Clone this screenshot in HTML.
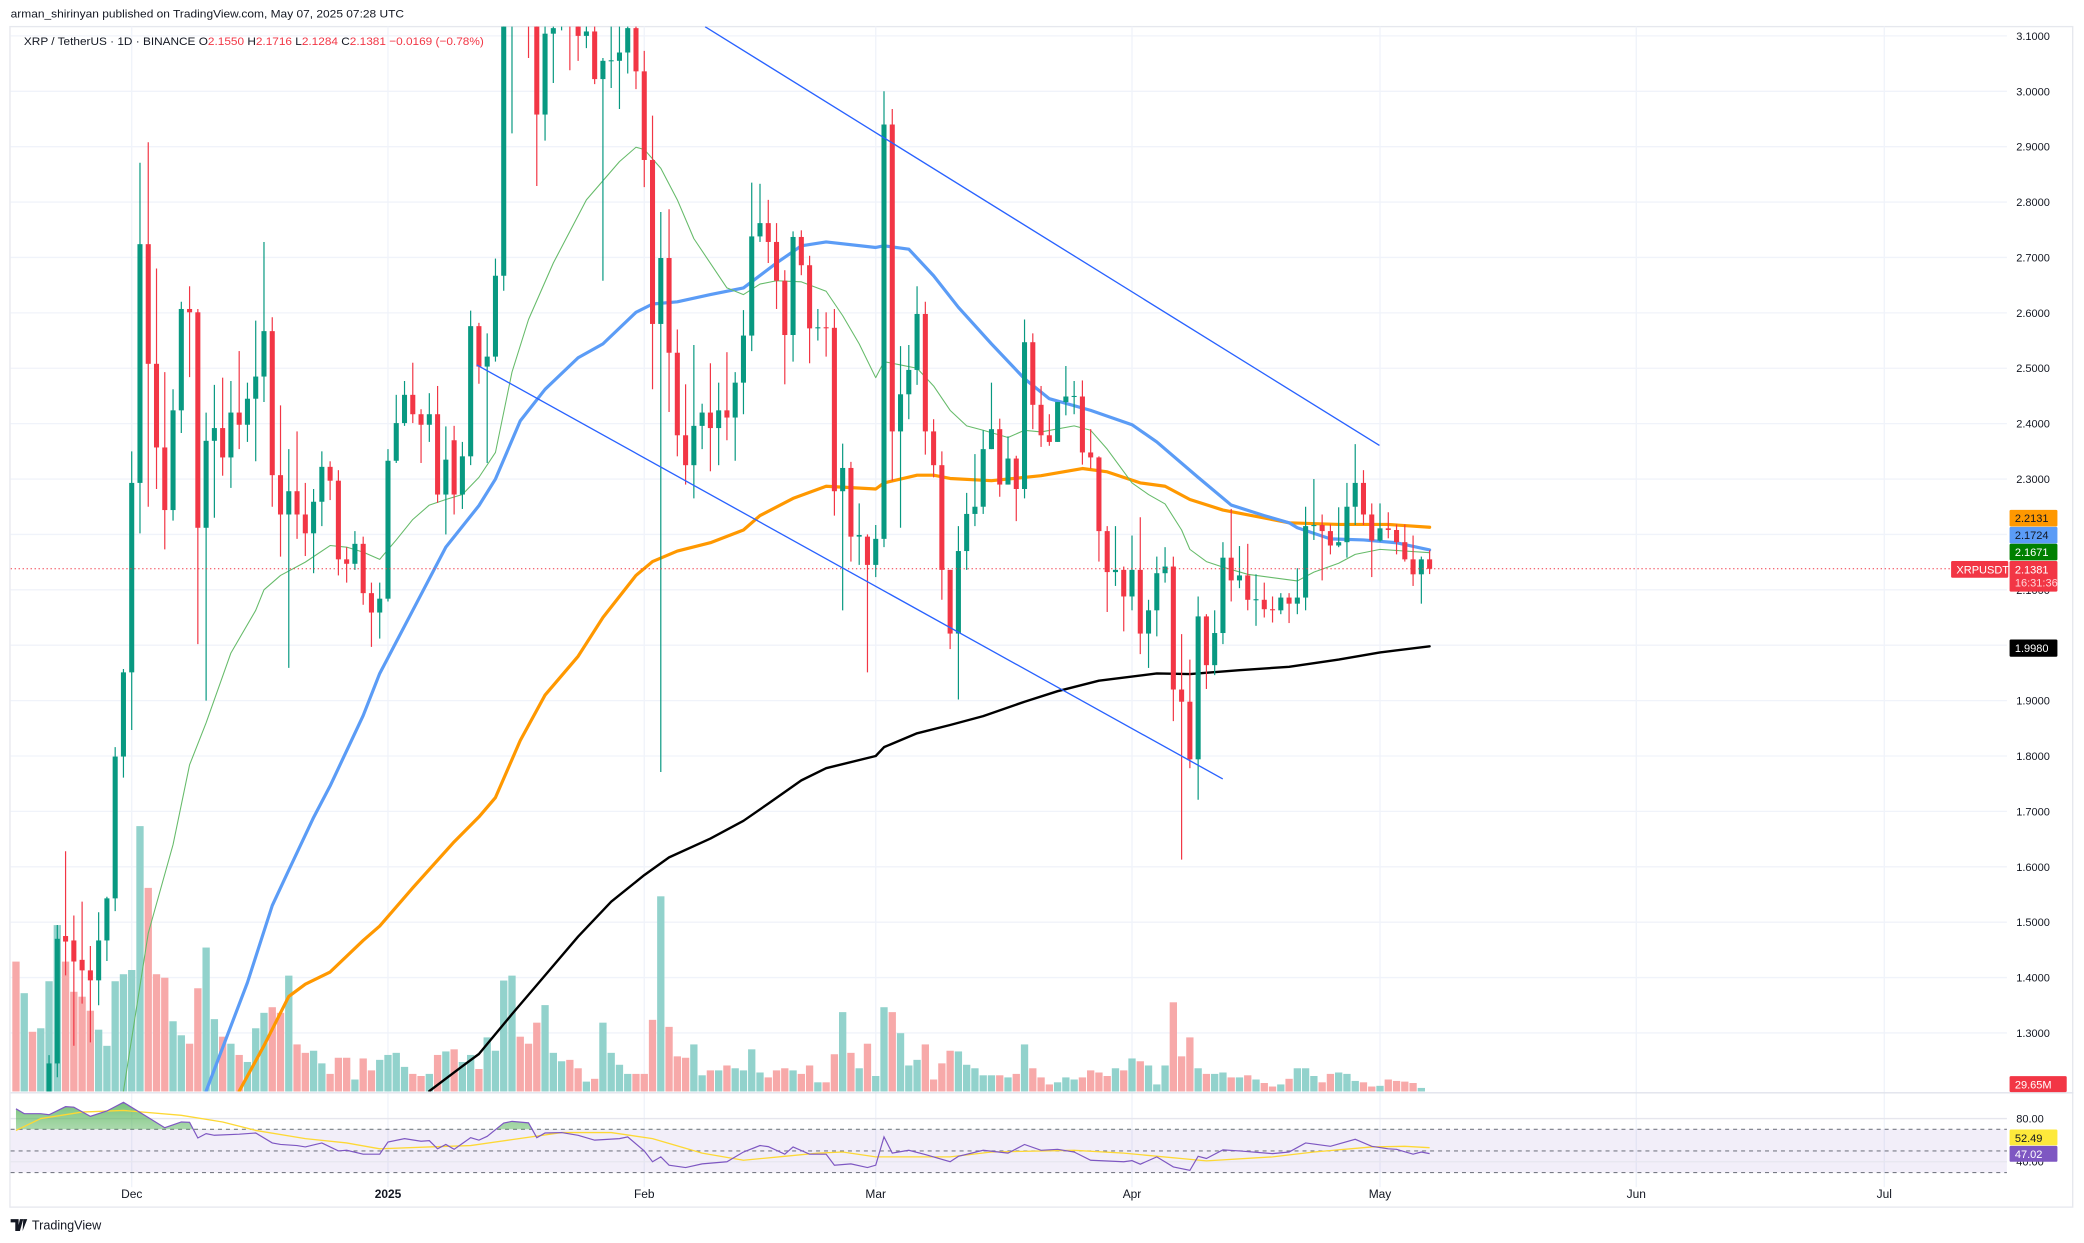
<!DOCTYPE html>
<html><head><meta charset="utf-8"><style>
html,body{margin:0;padding:0;background:#fff;}
svg{display:block;font-family:"Liberation Sans",sans-serif;}
</style></head><body>
<svg id="chart" width="2084" height="1243" viewBox="0 0 1568 935" preserveAspectRatio="none" xmlns="http://www.w3.org/2000/svg">
<defs>
<clipPath id="plotClip"><rect x="8" y="20" width="1502" height="801"/></clipPath>
<clipPath id="obClip"><rect x="8" y="822" width="1502" height="27.5"/></clipPath>
<linearGradient id="obGrad" x1="0" y1="0" x2="0" y2="1"><stop offset="0" stop-color="#4caf50" stop-opacity="0.75"/><stop offset="1" stop-color="#4caf50" stop-opacity="0.05"/></linearGradient>
</defs>
<rect x="0" y="0" width="1568" height="935" fill="#fff"/>
<rect x="7.5" y="20" width="1552" height="888" fill="none" stroke="#e6e8ee" stroke-width="1"/>
<g id="grid"></g>
<g id="vol" clip-path="url(#plotClip)"></g>
<g id="mas" clip-path="url(#plotClip)"></g>
<g id="candles" clip-path="url(#plotClip)"></g>
<g id="overlay" clip-path="url(#plotClip)"></g>
<g id="rsi"></g>
<g id="axes"></g>
<text x="8" y="13" font-size="8.6" fill="#131722" textLength="296" lengthAdjust="spacingAndGlyphs">arman_shirinyan published on TradingView.com, May 07, 2025 07:28 UTC</text>
<text x="18" y="34" font-size="8.6" fill="#131722" textLength="346" lengthAdjust="spacingAndGlyphs">XRP / TetherUS · 1D · BINANCE  O<tspan fill="#f23645">2.1550</tspan>  H<tspan fill="#f23645">2.1716</tspan>  L<tspan fill="#f23645">2.1284</tspan>  C<tspan fill="#f23645">2.1381</tspan>  <tspan fill="#f23645">−0.0169 (−0.78%)</tspan></text>
<g>
<path d="M8 917h6v9h-2.5v-6.5H8z M15 917h2.5l-2.5 9h-2z M17.5 917h3l-3.5 9" fill="#131722"/>
<text x="24" y="925" font-size="9.5" fill="#131722">TradingView</text>
</g>
</svg>
<script>
const dayStart = -14;
const opens = [1.13,1.10,1.12,1.10,1.12,1.245,1.475,1.467,1.432,1.413,1.395,1.467,1.543,1.799,
1.951,2.293,2.724,2.508,2.357,2.244,2.424,2.607,2.601,2.212,2.369,2.392,2.339,2.42,2.398,2.445,2.485,2.567,2.307,2.236,2.278,2.236,2.202,2.259,2.322,2.297,2.155,2.147,2.183,2.094,2.059,2.084,2.333,2.401,2.452,2.417,2.398,2.417,2.272,2.37,2.272,2.341,2.576,2.503,2.521,
2.667,3.20,3.34,3.25,3.20,2.958,3.104,3.12,3.18,3.12,3.10,3.108,3.022,3.055,3.055,3.07,3.114,3.036,2.876,2.58,2.699,2.528,2.379,2.325,2.396,2.42,2.392,2.424,2.411,2.474,2.559,2.738,2.762,2.728,2.658,2.56,2.737,2.686,2.572,2.574,2.573,2.278,2.32,2.196,2.196,2.145,2.192,2.94,2.386,2.453,2.497,2.598,2.386,2.325,2.136,2.021,2.17,2.237,
2.25,2.354,2.39,2.29,2.337,2.282,2.547,2.434,2.379,2.367,2.439,2.449,2.449,2.348,2.339,2.206,2.132,2.136,2.088,2.136,2.021,2.063,2.13,2.142,1.92,1.898,1.794,2.052,1.964,2.022,2.158,2.117,2.126,2.082,2.082,2.065,2.063,2.086,2.075,2.086,2.215,2.217,2.206,2.18,2.186,2.25,2.293,2.236,2.189,2.211,2.208,2.186,2.155,2.128,2.155];
const closes = [1.10,1.12,1.10,1.12,1.245,1.47,1.465,1.429,1.413,1.395,1.467,1.543,1.799,1.951,
2.293,2.724,2.508,2.357,2.244,2.424,2.607,2.601,2.212,2.369,2.392,2.339,2.42,2.398,2.445,2.485,2.567,2.307,2.236,2.278,2.236,2.202,2.259,2.322,2.297,2.155,2.147,2.183,2.094,2.059,2.084,2.333,2.401,2.452,2.417,2.398,2.417,2.272,2.335,2.272,2.341,2.576,2.503,2.521,2.667,
3.20,3.34,3.25,3.20,2.958,3.104,3.114,3.18,3.12,3.10,3.108,3.022,3.055,3.056,3.07,3.114,3.036,2.876,2.58,2.699,2.528,2.379,2.325,2.396,2.42,2.392,2.424,2.411,2.474,2.559,2.738,2.762,2.728,2.658,2.56,2.737,2.686,2.572,2.574,2.573,2.278,2.32,2.196,2.199,2.145,2.192,2.94,2.386,2.453,2.497,2.598,2.386,2.325,2.136,2.021,2.17,2.237,2.25,
2.354,2.39,2.29,2.337,2.282,2.547,2.434,2.379,2.367,2.439,2.449,2.45,2.348,2.339,2.206,2.132,2.136,2.088,2.136,2.021,2.063,2.13,2.142,1.92,1.898,1.794,2.052,1.964,2.022,2.158,2.117,2.126,2.082,2.083,2.065,2.063,2.086,2.075,2.086,2.215,2.217,2.206,2.18,2.186,2.25,2.293,2.236,2.189,2.211,2.208,2.186,2.155,2.128,2.155,2.138];
const highs = [1.16,1.15,1.14,1.15,1.26,1.495,1.628,1.512,1.537,1.457,1.518,1.546,1.816,1.957,
2.35,2.871,2.908,2.68,2.493,2.462,2.62,2.648,2.607,2.42,2.47,2.483,2.477,2.531,2.474,2.586,2.728,2.592,2.433,2.354,2.386,2.293,2.282,2.35,2.332,2.316,2.177,2.206,2.196,2.113,2.113,2.354,2.452,2.477,2.51,2.426,2.455,2.468,2.395,2.396,2.367,2.604,2.582,2.563,2.698,
3.25,3.40,3.40,3.35,3.30,3.20,3.20,3.25,3.25,3.20,3.15,3.15,3.06,3.15,3.15,3.15,3.15,3.073,2.956,2.782,2.787,2.57,2.471,2.542,2.436,2.509,2.474,2.529,2.493,2.605,2.835,2.833,2.804,2.762,2.677,2.747,2.749,2.703,2.607,2.601,2.607,2.364,2.331,2.256,2.2,2.217,3.0,2.968,2.54,2.542,2.648,2.62,2.408,2.35,2.136,2.215,2.275,2.345,
2.388,2.474,2.409,2.377,2.342,2.588,2.563,2.468,2.417,2.439,2.504,2.477,2.478,2.39,2.341,2.215,2.215,2.142,2.198,2.231,2.082,2.16,2.177,2.16,2.02,1.974,2.088,2.056,2.063,2.186,2.246,2.179,2.183,2.128,2.113,2.088,2.094,2.094,2.139,2.25,2.3,2.236,2.218,2.249,2.293,2.363,2.316,2.256,2.256,2.24,2.218,2.218,2.198,2.16,2.1716];
const lows = [1.08,1.07,1.07,1.09,1.10,1.22,1.404,1.277,1.353,1.283,1.35,1.43,1.52,1.761,
1.847,2.202,2.25,2.282,2.173,2.225,2.383,2.484,2.002,1.9,2.23,2.306,2.284,2.354,2.367,2.332,2.439,2.25,2.16,1.959,2.192,2.161,2.13,2.215,2.262,2.126,2.113,2.136,2.073,1.997,2.012,2.079,2.329,2.396,2.401,2.329,2.367,2.257,2.2,2.236,2.246,2.325,2.472,2.329,2.512,
2.64,2.924,3.12,3.06,2.829,2.911,3.015,3.11,3.038,3.055,3.078,3.013,2.658,3.006,2.968,3.032,3.004,2.827,2.462,1.771,2.421,2.341,2.29,2.265,2.354,2.314,2.325,2.37,2.333,2.417,2.531,2.728,2.69,2.607,2.471,2.512,2.668,2.509,2.55,2.521,2.234,2.063,2.151,2.145,1.951,2.123,2.177,2.297,2.212,2.408,2.47,2.344,2.303,2.082,1.993,1.902,2.136,2.215,
2.237,2.354,2.268,2.29,2.224,2.265,2.39,2.358,2.36,2.367,2.415,2.417,2.326,2.319,2.151,2.06,2.107,2.025,2.063,1.984,1.959,2.016,2.113,1.863,1.613,1.778,1.721,1.921,1.946,2.002,2.079,2.103,2.063,2.035,2.05,2.041,2.056,2.04,2.056,2.063,2.19,2.117,2.164,2.177,2.158,2.217,2.217,2.123,2.187,2.193,2.164,2.151,2.107,2.075,2.1284];
const volumesM = [1110,840,510,540,942,1422,1110,852,810,690,528,390,942,1002,
1038,2268,1740,1002,972,600,480,408,882,1230,618,468,408,312,252,540,672,720,672,990,402,330,348,240,150,288,288,102,282,180,270,312,330,210,150,132,150,312,342,360,252,312,192,462,348,
948,990,468,408,588,738,330,258,270,198,84,108,588,330,228,150,150,150,612,1668,552,300,288,402,138,180,180,222,198,180,360,162,120,180,198,180,150,222,78,78,318,678,330,198,408,132,720,678,498,222,270,402,102,240,348,342,228,198,
138,138,138,120,150,402,198,120,60,78,120,102,120,180,162,132,198,180,282,258,222,60,222,762,300,462,198,150,150,162,120,120,138,102,72,42,60,108,198,198,132,78,150,162,150,90,78,42,48,102,90,84,72,30];

const ema20Days = [-1,2,5,7,9,12,15,16,18,21,24,26,28,30,32,34,36,38,40,42,44,46,48,51,55,59,61,62,64,66,68,72,74,76,78,81,84,86,88,90,91,93,95,97,99,101,103,106,108,110,114,116,118,121,123,125,127,128,130,132,135,141,143,146,148,151,157];
const ema20Vals = [1.195,1.48,1.64,1.784,1.86,1.986,2.063,2.1,2.126,2.15,2.18,2.177,2.168,2.155,2.19,2.227,2.253,2.263,2.272,2.303,2.348,2.493,2.588,2.69,2.804,2.873,2.899,2.895,2.861,2.804,2.734,2.645,2.633,2.652,2.658,2.656,2.639,2.595,2.544,2.483,2.512,2.506,2.5,2.468,2.424,2.396,2.388,2.375,2.388,2.385,2.396,2.388,2.354,2.293,2.272,2.255,2.208,2.173,2.151,2.141,2.128,2.116,2.132,2.148,2.164,2.173,2.167];
const sma50Days = [9,14,17,19,22,24,28,30,34,38,42,44,47,50,54,57,61,63,66,70,74,78,81,84,90,91,94,97,100,104,108,111,116,121,124,129,133,137,140,141,145,149,153,157];
const sma50Vals = [1.195,1.391,1.53,1.594,1.689,1.746,1.873,1.949,2.063,2.177,2.252,2.3,2.405,2.462,2.519,2.544,2.601,2.616,2.62,2.633,2.645,2.69,2.721,2.728,2.718,2.721,2.715,2.667,2.61,2.544,2.481,2.445,2.424,2.398,2.367,2.303,2.253,2.234,2.221,2.212,2.192,2.19,2.185,2.172];
const sma100Days = [13,16,19,21,24,28,30,34,39,42,44,47,50,54,57,61,63,66,70,74,76,80,84,90,91,95,97,99,104,110,115,118,122,125,128,132,140,146,152,157];
const sma100Vals = [1.195,1.277,1.366,1.388,1.41,1.467,1.493,1.562,1.645,1.69,1.725,1.828,1.91,1.98,2.05,2.126,2.151,2.17,2.185,2.208,2.234,2.265,2.287,2.282,2.293,2.307,2.307,2.301,2.297,2.306,2.319,2.313,2.293,2.287,2.263,2.244,2.221,2.218,2.218,2.213];
const sma200Days = [36,40,42,46,50,54,58,62,65,70,74,77,81,84,90,91,95,99,103,108,112,117,124,128,134,140,146,151,157];
const sma200Vals = [1.195,1.24,1.262,1.334,1.404,1.474,1.537,1.585,1.617,1.651,1.683,1.714,1.756,1.778,1.8,1.816,1.841,1.856,1.872,1.898,1.917,1.936,1.949,1.948,1.955,1.961,1.974,1.987,1.998];

const rsiDays = [-14,-13,-11,-10,-8,-7,-5,-3,-1,2,4,6,7,8,9,10,13,15,17,18,20,21,23,25,26,28,30,31,33,35,36,37,38,39,41,42,43,45,46,48,49,50,52,54,56,59,60,62,63,64,65,67,69,72,74,76,77,79,80,82,84,85,87,89,90,91,92,94,96,99,100,103,106,108,110,112,114,116,120,121,122,124,126,128,129,130,132,134,138,140,142,145,148,150,152,153,155,156,157];
const rsiVals = [89,84.5,84.5,83.5,91,90.5,82,87,95,81,71.5,76.8,76.5,62,66,64.5,65.5,66.6,57.4,56,55,53.7,57.4,50,50.6,47,47,58.3,61.4,59,59.5,52,56,51.5,62.3,60,63.5,75.8,77.4,76,62.3,66.6,67,64.5,60,61.4,63,50,40,44.5,36.8,34.6,38,40,49,55,54,47,53.7,47,47,36.8,38,34.6,36.8,63,48,50.6,46.6,40,45,50.6,48,56,50.6,51.5,49,41.4,40,41,37.7,44.5,35.2,32,45,43,51,50,47.5,49,57.4,54.3,60.8,54.3,52,51.5,47,49,47.5];
const rsiMaDays = [-14,-11,-6,-1,6,11,15,21,26,30,36,41,46,52,58,63,69,74,79,83,86,90,99,104,114,120,130,138,143,150,154,157];
const rsiMaVals = [69,80,86,87.5,83,76.8,69,61.4,57.4,52,53.7,55,60.5,67,67,61.4,48,41.4,45,48,49,44.5,44.5,49,50.6,48,40.8,44.5,49,53.7,54.3,53];
const priceTicks = [3.1,3.0,2.9,2.8,2.7,2.6,2.5,2.4,2.3,2.2,2.1,2.0,1.9,1.8,1.7,1.6,1.5,1.4,1.3];
const monthLabels = ["Dec","2025","Feb","Mar","Apr","May","Jun","Jul"];
const monthDays = [0,31,62,90,121,151,182,212];

const NS = "http://www.w3.org/2000/svg";
function X(d){return 99.1 + 6.22*d;}
function Y(p){return 27 + (3.1-p)*416.67;}
function VY(v){return 821 - v*0.088;}
function RY(r){return 849.5 - (r-70)*0.8125;}
function mk(tag, attrs, parent){const e=document.createElementNS(NS,tag);for(const k in attrs)e.setAttribute(k,attrs[k]);parent.appendChild(e);return e;}

const grid = document.getElementById('grid');
priceTicks.forEach(p=>{
  const l = mk('line',{x1:8,x2:1510,y1:Y(p),y2:Y(p),stroke:'#f0f3fa','stroke-width':1},grid);
  
  
});
monthDays.forEach(d=>{
  const l = mk('line',{x1:X(d),x2:X(d),y1:20,y2:893,stroke:'#f0f3fa','stroke-width':1},grid);
  
  
});

const volG = document.getElementById('vol');
volumesM.forEach((v,i)=>{
  const d = dayStart+i;
  const up = closes[i] >= opens[i];
  const r = mk('rect',{x:X(d)-2.75,y:VY(v),width:5.5,height:821-VY(v),fill: up?'#92d2cc':'#f7a9a9'},volG);
  
  
});

const maG = document.getElementById('mas');
function line(days, vals, color, w, name){
  const pts = days.map((d,i)=>X(d).toFixed(2)+','+Y(vals[i]).toFixed(2)).join(' ');
  const pl = mk('polyline',{points:pts,fill:'none',stroke:color,'stroke-width':w,'stroke-linejoin':'round','stroke-linecap':'round'},maG);
  
  
}
line(sma200Days,sma200Vals,'#000000',1.8,'ma-200-line');
line(sma100Days,sma100Vals,'#ff9800',2.4,'ma-100-line');
line(sma50Days,sma50Vals,'#5b9cf6',2.4,'ma-50-line');
line(ema20Days,ema20Vals,'#66bb6a',0.8,'ma-20-line');

const cG = document.getElementById('candles');
opens.forEach((o,i)=>{
  const d = dayStart+i, c = closes[i];
  const up = c >= o, col = up ? '#089981' : '#f23645';
  const w = mk('line',{x1:X(d),x2:X(d),y1:Y(highs[i]),y2:Y(lows[i]),stroke:col,'stroke-width':0.9},cG);
  
  
  const top = Y(Math.max(o,c)), h = Math.max(Math.abs(Y(o)-Y(c)),0.8);
  const b = mk('rect',{x:X(d)-1.9,y:top,width:3.8,height:h,fill:col},cG);
  
  
});

const ov = document.getElementById('overlay');
const lastClose = closes[closes.length-1];
const pl = mk('line',{x1:8,x2:1510,y1:Y(lastClose),y2:Y(lastClose),stroke:'#f23645','stroke-width':0.8,'stroke-dasharray':'1 2'},ov);


const t1 = mk('line',{x1:530.5,y1:20.1,x2:1037.9,y2:335.1,stroke:'#2962ff','stroke-width':1},ov);


const t2 = mk('line',{x1:358.7,y1:274.5,x2:920,y2:585.9,stroke:'#2962ff','stroke-width':1},ov);



// RSI pane
const rG = document.getElementById('rsi');
const sep = mk('line',{x1:8,x2:1560,y1:822,y2:822,stroke:'#e0e3eb','stroke-width':1},rG);


const band = mk('rect',{x:8,y:RY(70),width:1502,height:RY(30)-RY(70),fill:'#7e57c2','fill-opacity':0.1},rG);


[80,40].forEach(v=>{
  const g = mk('line',{x1:8,x2:1510,y1:RY(v),y2:RY(v),stroke:'#e6e6ee','stroke-width':1},rG);
  
  
});
[70,50,30].forEach(v=>{
  const g = mk('line',{x1:8,x2:1510,y1:RY(v),y2:RY(v),stroke:'#787b86','stroke-width':0.8,'stroke-dasharray':'3 3'},rG);
  
  
});
const rPts = rsiDays.map((d,i)=>X(d).toFixed(2)+','+RY(rsiVals[i]).toFixed(2));
const fillPts = X(rsiDays[0]).toFixed(2)+','+RY(70)+' '+rPts.join(' ')+' '+X(rsiDays[rsiDays.length-1]).toFixed(2)+','+RY(70);
const ob = mk('polygon',{points:fillPts,fill:'url(#obGrad)','clip-path':'url(#obClip)'},rG);


const rma = mk('polyline',{points:rsiMaDays.map((d,i)=>X(d).toFixed(2)+','+RY(rsiMaVals[i]).toFixed(2)).join(' '),fill:'none',stroke:'#fdd835','stroke-width':1},rG);


const rl = mk('polyline',{points:rPts.join(' '),fill:'none',stroke:'#7e57c2','stroke-width':0.9},rG);



// axes
const ax = document.getElementById('axes');
priceTicks.forEach(p=>{
  const t = mk('text',{x:1517,y:Y(p)+3,'font-size':8.3,fill:'#131722'},ax);
  t.textContent = p.toFixed(4);
  
  
});
monthLabels.forEach((m,i)=>{
  const t = mk('text',{x:X(monthDays[i]),y:901,'font-size':9,'text-anchor':'middle',fill:'#131722','font-weight':m==='2025'?'bold':'normal'},ax);
  t.textContent = m;
  
  
});
function tag(y, h, bg, fg, txt, name, x0, w){
  const g = mk('g',{},ax);
  
  
  mk('rect',{x:x0||1512,y:y,width:w||36,height:h,fill:bg,rx:1},g);
  const t = mk('text',{x:(x0||1512)+4,y:y+9.3,'font-size':8.3,fill:fg},g);
  t.textContent = txt;
  return g;
}
tag(383.5,12.5,'#ff9800','#131722','2.2131','ma-100-value-label');
tag(396.3,12.5,'#5b9cf6','#131722','2.1724','ma-50-value-label');
tag(409,12.5,'#008000','#ffffff','2.1671','ma-20-value-label');
const lp = tag(422,23,'#f23645','#ffffff','2.1381','last-price-label');
const cd = mk('text',{x:1516,y:441,'font-size':8.3,fill:'#ffd6d9'},lp);
cd.textContent = '16:31:36';
tag(422,12.6,'#f23645','#ffffff','XRPUSDT','symbol-tag',1468,43);
tag(481,13,'#000000','#ffffff','1.9980','ma-200-value-label');
tag(809.5,12,'#f23645','#ffffff','29.65M','volume-value-label',1512,43);
const r80 = mk('text',{x:1517,y:RY(80)+3,'font-size':8.3,fill:'#131722'},ax);
r80.textContent = '80.00';


const r40 = mk('text',{x:1517,y:RY(40)+3,'font-size':8.3,fill:'#131722'},ax);
r40.textContent = '40.00';


tag(849.6,12,'#fde93b','#131722','52.49','rsi-ma-value-label');
tag(861.9,12,'#7e57c2','#ffffff','47.02','rsi-value-label');
</script>
</body></html>
